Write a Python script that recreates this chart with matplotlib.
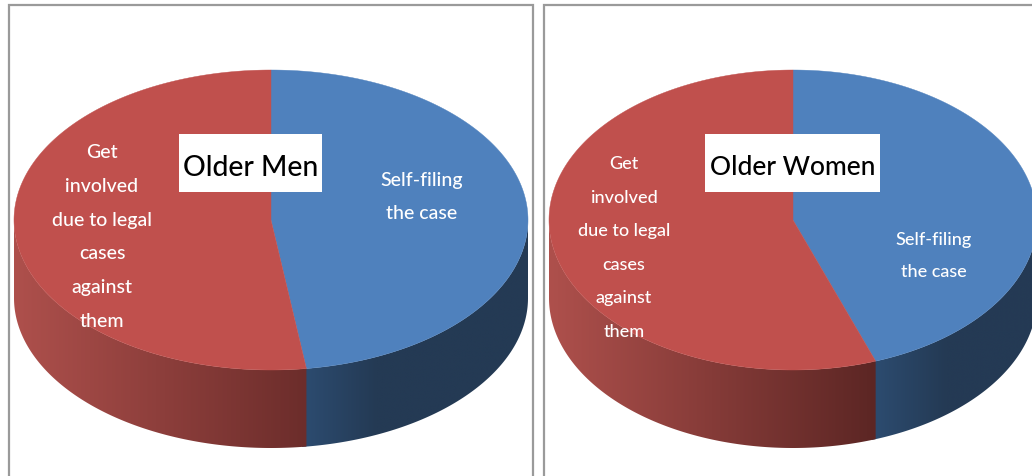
import numpy as np
import matplotlib.pyplot as plt
from matplotlib.patches import Rectangle, Polygon
from matplotlib.colors import to_rgb

W, H = 1032, 477

# Data
slice_names = ['Self-filing the case', 'Get involved due to legal cases against them']
men_shares = [47.8, 52.2]
women_shares = [44.5, 55.5]
panel_titles = ['Older Men', 'Older Women']
blue_label = 'Self-filing\nthe case'
red_label = 'Get\ninvolved\ndue to legal\ncases\nagainst\nthem'

plt.rcParams['font.family'] = ['Lato', 'DejaVu Sans']

BLUE = '#4f81bd'
RED = '#c0504d'


def mix(c1, c2, t):
    t = min(max(t, 0), 1)
    return tuple((1 - t) * a + t * b for a, b in zip(to_rgb(c1), to_rgb(c2)))


def draw_side(ax, cx, cy, rx, ry, depth, t0, t1, color_at):
    # side wall: one gradient image clipped to the wall outline
    ts = np.radians(np.linspace(t0, t1, 200))
    xs = cx + rx * np.sin(ts)
    ys = cy - ry * np.cos(ts)
    pts = np.column_stack([np.concatenate([xs, xs[::-1]]),
                           np.concatenate([ys, ys[::-1] + depth])])
    x0, x1 = xs.min(), xs.max()
    cols = np.array([[color_at(x) for x in np.linspace(x0, x1, 200)]])
    im = ax.imshow(cols, extent=(x0, x1, ys.max() + depth, ys.min()), aspect='auto',
                   interpolation='bilinear', zorder=2)
    clip = Polygon(pts, closed=True, transform=ax.transData)
    im.set_clip_path(clip)


def draw_pie(ax, cx, cy, rx, ry, depth, shares, dark_end):
    cut = 360 * shares[0] / sum(shares)
    cut_x = cx + rx * np.sin(np.radians(cut))
    left_x = cx - rx

    def red_side(x):
        return mix('#ae504c', dark_end, (x - left_x) / (cut_x - left_x))

    def blue_side(x):
        return mix('#2c4b6f', '#243a54', (x - cut_x) / 70)

    # blue runs a little under the red wall so no gap shows at the join
    draw_side(ax, cx, cy, rx, ry, depth, 90, cut + 1, blue_side)
    draw_side(ax, cx, cy, rx, ry, depth, cut, 270, red_side)

    # top face
    for t0, t1, col in [(0, cut, BLUE), (cut, 360, RED)]:
        ts = np.radians(np.linspace(t0, t1, 300))
        px = np.concatenate([[cx], cx + rx * np.sin(ts)])
        py = np.concatenate([[cy], cy - ry * np.cos(ts)])
        ax.fill(px, py, color=col, lw=0.3, zorder=3)


fig = plt.figure(figsize=(W / 100, H / 100), dpi=100)
ax = fig.add_axes([0, 0, 1, 1])
ax.axis('off')

# panel frames
ax.add_patch(Rectangle((8.5, 5.5), 524.5, 500, fc='white', ec='#9a9a9a', lw=1.6, zorder=1))
ax.add_patch(Rectangle((544, 5.5), 600, 500, fc='white', ec='#9a9a9a', lw=1.6, zorder=1))

draw_pie(ax, 271, 221, 257, 150, 78, men_shares, '#6c2d2b')
draw_pie(ax, 793, 221, 244, 150, 78, women_shares, '#5c2624')

ax.set_xlim(0, W)
ax.set_ylim(H, 0)

# labels inside the slices
ax.text(102, 237, red_label, color='white', fontsize=14, ha='center', va='center',
        linespacing=2.19, fontweight='medium', zorder=4)
ax.text(422, 197, blue_label, color='white', fontsize=14, ha='center', va='center',
        linespacing=2.19, fontweight='medium', zorder=4)
ax.text(624, 248, red_label, color='white', fontsize=13, ha='center', va='center',
        linespacing=2.34, fontweight='medium', zorder=4)
ax.text(934, 256, blue_label, color='white', fontsize=13, ha='center', va='center',
        linespacing=2.2, fontweight='medium', zorder=4)

# title boxes
ax.add_patch(Rectangle((179, 135), 143, 58, fc='white', ec='none', zorder=5))
ax.add_patch(Rectangle((705, 135), 175, 58, fc='white', ec='none', zorder=5))
ax.text(250.5, 168, panel_titles[0], color='black', fontsize=20.4, ha='center', va='center',
        fontweight='medium', zorder=6)
ax.text(792.5, 168, panel_titles[1], color='black', fontsize=19, ha='center', va='center',
        fontweight='medium', zorder=6)

fig.savefig('out.png', dpi=100)
